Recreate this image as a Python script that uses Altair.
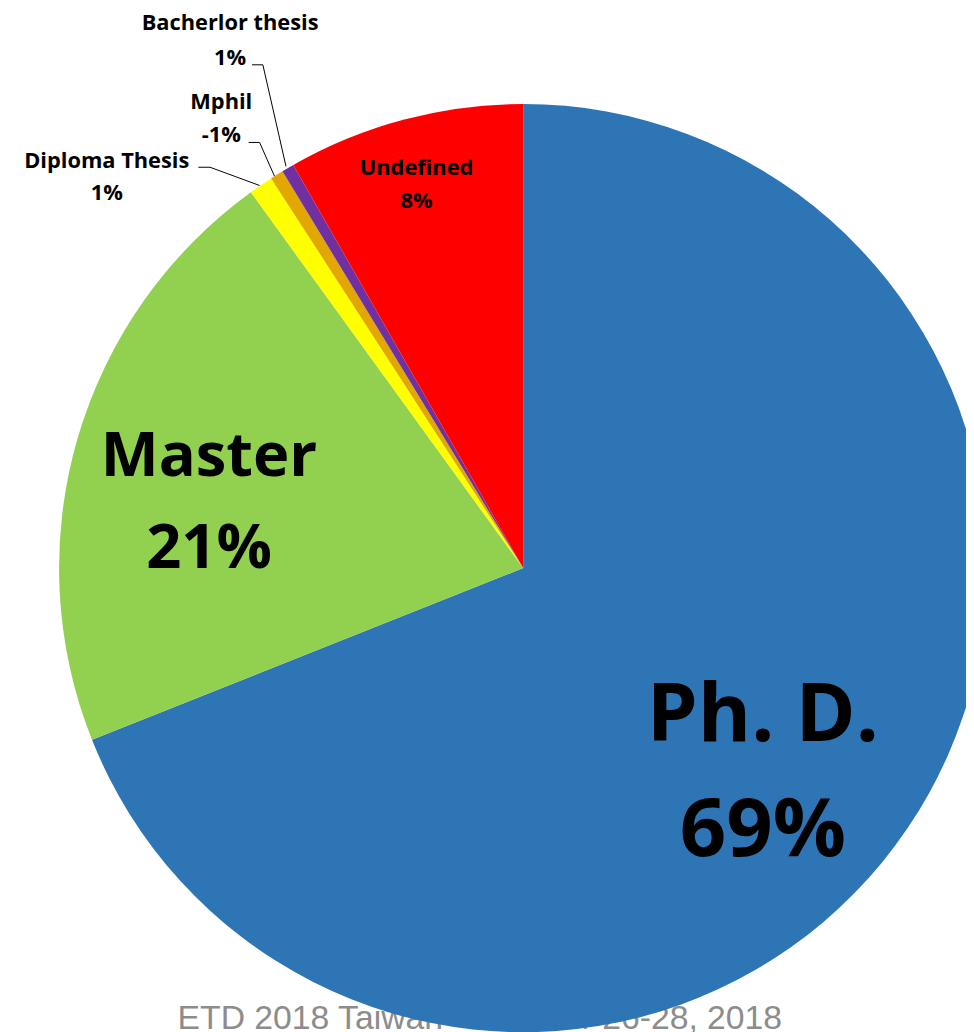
import altair as alt
import pandas as pd

# ---- data ----
categories = ["Ph. D.", "Master", "Diploma Thesis", "Mphil", "Bacherlor thesis", "Undefined"]
shares = [68.97, 21.05, 0.84, 0.46, 0.43, 8.25]
pct_labels = ["69%", "21%", "1%", "-1%", "1%", "8%"]
colors = ["#2E75B6", "#92D050", "#FFFF00", "#E2A700", "#7030A0", "#FF0000"]
footer_text = "ETD 2018 Taiwan - October 26-28, 2018"

df = pd.DataFrame({
    "category": categories,
    "share": shares,
    "pct": pct_labels,
    "order": list(range(len(categories))),
})
df["label"] = df["category"] + "\n" + df["pct"]

W, H = 966, 1024
CX, CY, R = 519.5, 560.5, 468

base = alt.Chart(df).encode(
    theta=alt.Theta("share:Q", stack=True),
    order=alt.Order("order:Q"),
)

arcs = base.mark_arc(radius=R).encode(
    color=alt.Color("category:N", scale=alt.Scale(domain=categories, range=colors), legend=None),
    x=alt.value(CX),
    y=alt.value(CY),
)


def label(cat, size, radius, dx, dy, lh):
    return (
        base.transform_calculate(shown=f"datum.category == '{cat}' ? datum.label : ''")
        .mark_text(
            font="Open Sans", fontWeight="bold", fontSize=size, lineBreak="\n", lineHeight=lh,
            align="center", baseline="middle", radius=radius, dx=dx, dy=dy, color="black",
        )
        .encode(text=alt.Text("shown:N"), x=alt.value(CX), y=alt.value(CY))
    )


labels = [
    label("Ph. D.", 82, 318, -21.5, -29.6, 116),
    label("Master", 62, 320, -9.5, -22.9, 93),
    label("Undefined", 22, 398, -5.5, -18.7, 33),
    label("Diploma Thesis", 22, 465, -157.1, -27.3, 33),
    label("Mphil", 22, 465, -57.5, -75.5, 33),
    label("Bacherlor thesis", 22, 465, -59.7, -148.5, 35),
]


def seg(x1, y1, x2, y2):
    return alt.Chart(alt.Data(values=[{"k": 1}])).mark_rule(color="black", strokeWidth=1).encode(
        x=alt.value(x1), y=alt.value(y1), x2=alt.value(x2), y2=alt.value(y2)
    )


leaders = [
    seg(246, 53, 257, 53), seg(257, 53, 280.3, 155.3),
    seg(242.7, 131.3, 253.7, 131.3), seg(253.7, 131.3, 268.7, 165.3),
    seg(192, 156.3, 203.7, 156.3), seg(203.7, 156.3, 253.7, 174.7),
]

footer = alt.Chart(alt.Data(values=[{"t": footer_text}])).mark_text(
    font="Liberation Sans", fontSize=34, color="#8C8C8C", align="left", baseline="alphabetic"
).encode(text="t:N", x=alt.value(171), y=alt.value(1025))

chart = alt.layer(footer, arcs, *leaders, *labels).properties(
    width=W, height=H,
    autosize=alt.AutoSizeParams(type="none"),
    padding=0,
    background="white",
).configure_view(stroke="transparent")

chart.save("out.html", embed_options={"renderer": "svg", "actions": False})
